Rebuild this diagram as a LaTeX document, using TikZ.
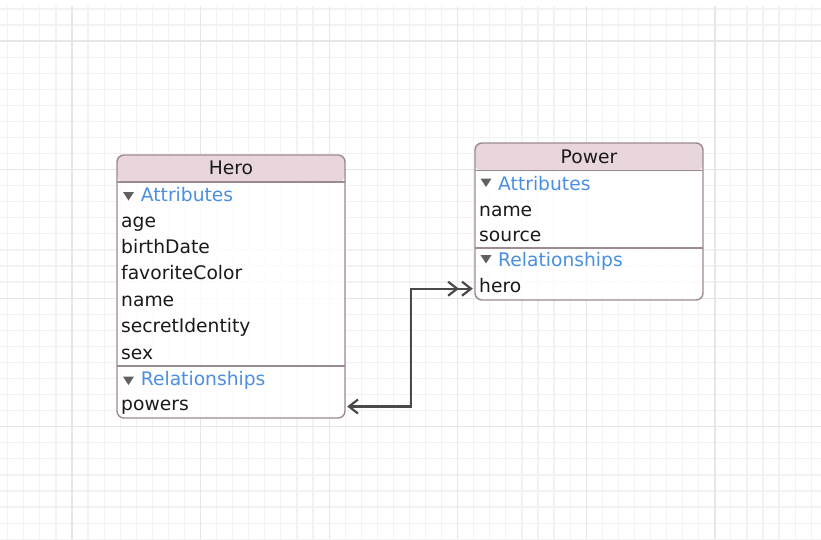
\documentclass[tikz,border=0pt]{standalone}
\usepackage{fontspec}
\setmainfont{DejaVu Sans}
\usetikzlibrary{arrows.meta}

\definecolor{gridminor}{HTML}{F2F2F2}
\definecolor{gridmajor}{HTML}{E6E6E6}
\definecolor{entityborder}{HTML}{9C8A91}
\definecolor{entityhead}{HTML}{E3CCD4}
\definecolor{sectionblue}{HTML}{4A8FE2}
\definecolor{itemtext}{HTML}{1A1A1A}
\definecolor{linkgray}{HTML}{4A4A4A}

\tikzset{
  entity/.style={draw=entityborder, line width=1.4pt, rounded corners=7pt, fill=white, fill opacity=0.8, inner sep=0pt,
    path picture={\fill[entityhead] (path picture bounding box.north west) rectangle ([yshift=-#1]path picture bounding box.north east);}},
  divider/.style={draw=entityborder, line width=1.4pt},
  item/.style={anchor=base west, inner sep=0pt, text height=13pt, text depth=5pt, text=itemtext, font=\fontsize{18.7}{22}\selectfont},
  section/.style={item, text=sectionblue},
  title/.style={item, anchor=base},
  toggle/.style={fill=gray!75!black, draw=none},
  link/.style={draw=linkgray, line width=2.2pt, line cap=round,
    {Straight Barb[length=9pt,width=14pt]}-{Straight Barb[length=9pt,width=14pt,sep=2pt]Straight Barb[length=9pt,width=14pt]}}
}

\begin{document}
\begin{tikzpicture}[x=1pt, y=-1pt]
        \useasboundingbox (0,0) rectangle (821,539);
        \fill[white] (0,0) rectangle (821,539);

        % Grid
        \foreach \i in {0,...,50} {
          \pgfmathsetmacro\gx{7.7+16.07*\i}
          \draw[gridminor, line width=1.2pt] (\gx,6) -- (\gx,539);
        }
        \foreach \i in {0,...,33} {
          \pgfmathsetmacro\gy{8.9+16.07*\i}
          \draw[gridminor, line width=1.2pt] (0,\gy) -- (821,\gy);
        }
        \foreach \gx in {72,200.6,329.1,457.7,586.3,714.9}
          \draw[gridmajor, line width=1.2pt] (\gx,6) -- (\gx,539);
        \foreach \gy in {41,169.6,298.1,426.7}
          \draw[gridmajor, line width=1.2pt] (0,\gy) -- (821,\gy);

        % Entities
        \node (herobox)  at (231,286.5) [entity=27pt, minimum width=228pt, minimum height=263pt] {};
        \node (powerbox) at (589,221.5) [entity=28pt, minimum width=228pt, minimum height=157pt] {};
        \draw[divider] (117,182) -- (345,182);
        \draw[divider] (117,366) -- (345,366);
        \draw[divider] (475,170.5) -- (703,170.5);
        \draw[divider] (475,248) -- (703,248);

        % Hero
        \node (herotitle) at (231,174.3) [title] {Hero};
        \fill[toggle] (123,192) -- (134,192) -- (128.5,200.5) -- cycle;
        \node (heroattr)  at (140.7,201.3) [section] {Attributes};
        \node (age)       at (121,227) [item] {age};
        \node (birthdate) at (121,253) [item] {birthDate};
        \node (favcolor)  at (121,279.5) [item] {favoriteColor};
        \node (heroname)  at (121,306) [item] {name};
        \node (secretid)  at (121,332.7) [item] {secretIdentity};
        \node (sex)       at (121,359.3) [item] {sex};
        \fill[toggle] (123,376.5) -- (134,376.5) -- (128.5,385) -- cycle;
        \node (herorel)   at (140.7,385.7) [section] {Relationships};
        \node (powers)    at (121,410.5) [item] {powers};

        % Power
        \node (powertitle) at (589,163.3) [title] {Power};
        \fill[toggle] (480.5,178.5) -- (491.5,178.5) -- (486,187) -- cycle;
        \node (powerattr)  at (498,190) [section] {Attributes};
        \node (powername)  at (479,216) [item] {name};
        \node (source)     at (479,241.7) [item] {source};
        \fill[toggle] (480.5,255) -- (491.5,255) -- (486,263.5) -- cycle;
        \node (powerrel)   at (498,266.7) [section] {Relationships};
        \node (hero)       at (479,292.7) [item] {hero};

        % Edges
        \draw[link] ([xshift=1.5pt]herobox.east |- powers.center) -- ++(64,0) |- ([xshift=-1.5pt]powerbox.west |- hero.center);
\end{tikzpicture}
\end{document}
